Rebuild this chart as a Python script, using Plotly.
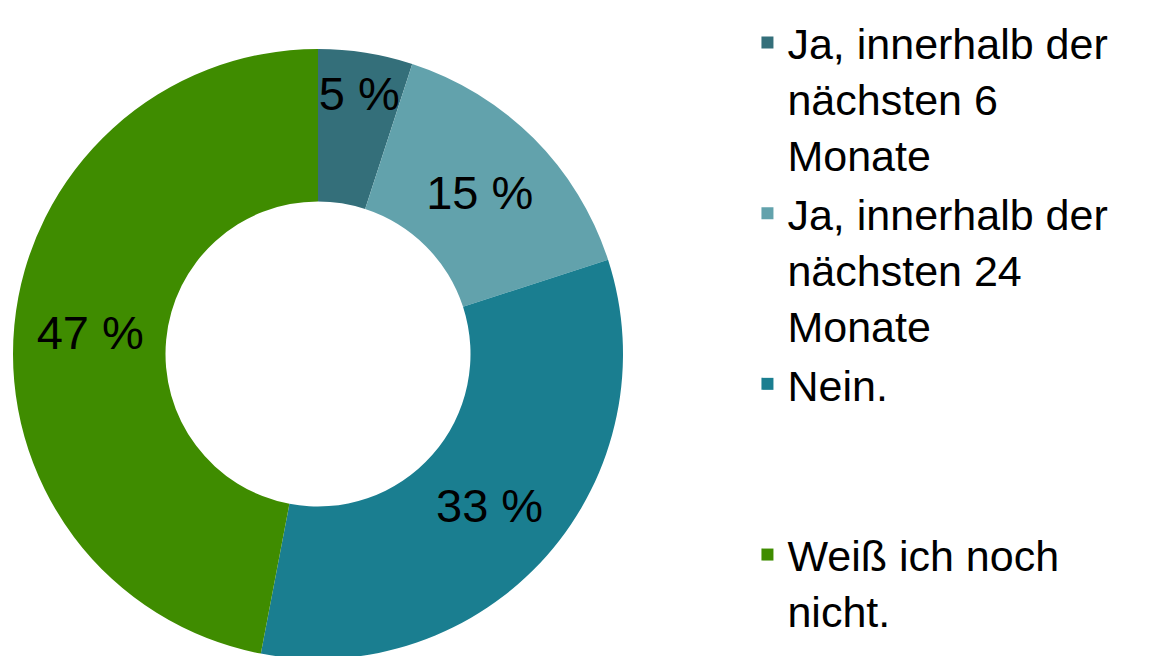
import plotly.graph_objects as go

labels = [
    "Ja, innerhalb der<br>nächsten 6<br>Monate",
    "Ja, innerhalb der<br>nächsten 24<br>Monate",
    "Nein.<br> <br> ",
    "Weiß ich noch<br>nicht.",
]
values = [5, 15, 33, 47]
text_labels = ["5 %", "15 %", "33 %", "47 %"]
colors = ["#346F7A", "#62A2AC", "#1A7E90", "#3F8C00"]

fig = go.Figure(
    go.Pie(
        labels=labels,
        values=values,
        text=text_labels,
        textinfo="text",
        textposition="inside",
        insidetextorientation="horizontal",
        hole=0.5,
        sort=False,
        direction="clockwise",
        rotation=0,
        marker=dict(colors=colors, line=dict(width=0)),
        textfont=dict(family="Liberation Sans, Arial, sans-serif", size=47, color="#000000"),
        domain=dict(x=[4 / 1150, 616 / 1150], y=[5 / 656, 615 / 656]),
    )
)

fig.update_layout(
    width=1150,
    height=656,
    margin=dict(l=0, r=0, t=0, b=0),
    paper_bgcolor="#FFFFFF",
    plot_bgcolor="#FFFFFF",
    showlegend=True,
    uniformtext=dict(minsize=47, mode="show"),
    legend=dict(
        x=0.643,
        y=1.0,
        xanchor="left",
        yanchor="top",
        valign="top",
        font=dict(family="Liberation Sans, Arial, sans-serif", size=43, color="#000000"),
        tracegroupgap=0,
        itemsizing="constant",
        bgcolor="rgba(0,0,0,0)",
    ),
)

fig.write_html("out.html")
